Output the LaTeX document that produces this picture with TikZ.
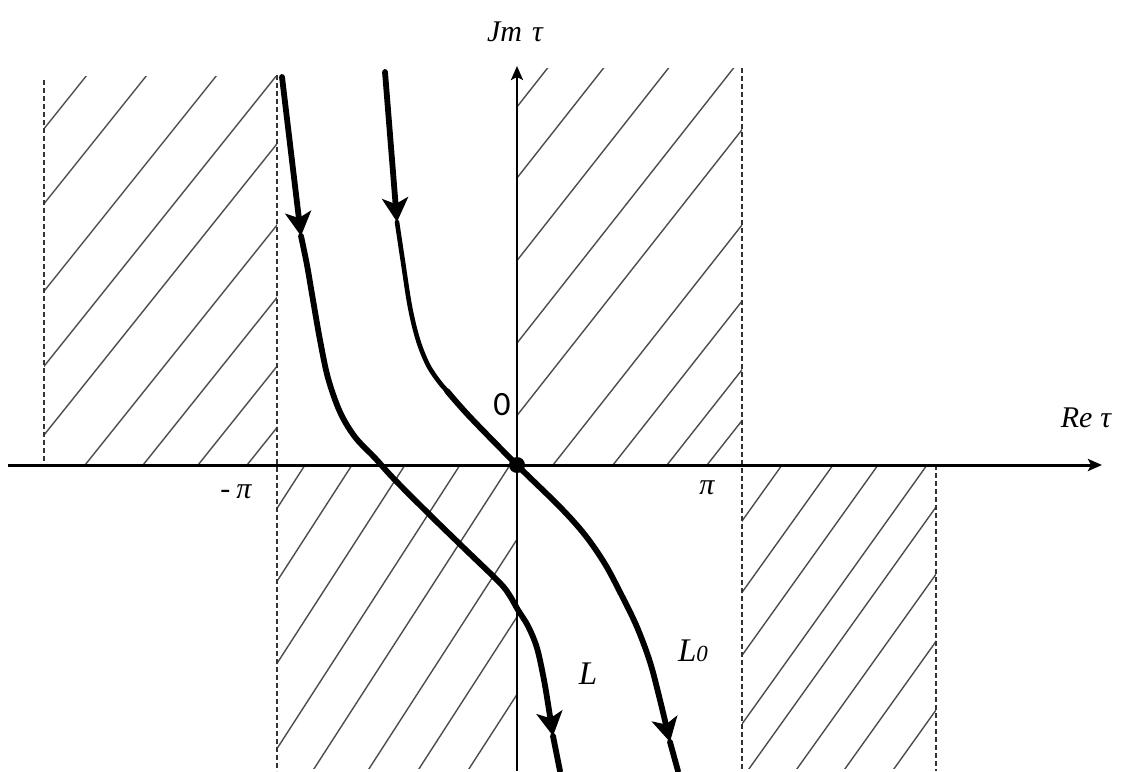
\documentclass[tikz,border=0pt]{standalone}
\usepackage{fontspec}
\setmainfont{Liberation Serif}
\newfontfamily\zerofont{Carlito}
\usetikzlibrary{arrows.meta}
\tikzset{
  hatch/.style={draw=black!70, line width=1.4pt},
  dashv/.style={draw=black!80, line width=1.4pt, dash pattern=on 5pt off 3pt},
  axis/.style={draw=black, line width=3pt, -{Stealth[length=14pt,width=12pt,inset=3pt]}},
  curve/.style={draw=black, line width=5.8pt, line cap=round, line join=round},
  thincurve/.style={curve, line width=4.6pt},
  bigtip/.style={-{Stealth[length=24pt,width=26pt,inset=6pt]}},
  lab/.style={font=\fontsize{30}{34}\selectfont\itshape, inner sep=0pt}
}
\begin{document}
\begin{tikzpicture}[x=1pt,y=-1pt]
\useasboundingbox (0,0) rectangle (1127,771);
% hatching
\begin{scope}
\clip (44,76) rectangle (277,465);
\foreach \c in {-225,-165,-95,-35,20,85,143,198,247}
  \draw[hatch] (\c,465) -- ({\c+400/1.25},65);
\end{scope}
\begin{scope}
\clip (517,68) rectangle (742,465);
\foreach \c in {235,291,356,421,478,553,613,667,707}
  \draw[hatch] (\c,465) -- ({\c+400/1.27},65);
\end{scope}
\begin{scope}
\clip (277,465) rectangle (517,768);
\foreach \c in {305,352,405,460,510,565,615,665,715}
  \draw[hatch] (\c,465) -- ({\c-310/1.55},775);
\end{scope}
\begin{scope}
\clip (742,465) rectangle (936,768);
\foreach \c in {782,833,878,927,966,1014,1062,1111}
  \draw[hatch] (\c,465) -- ({\c-310/1.4},775);
\end{scope}
% dashed boundaries
\coordinate (d1a) at (44,80);  \coordinate (d1b) at (44,465);
\coordinate (d2a) at (277,75); \coordinate (d2b) at (277,771);
\coordinate (d3a) at (742,68); \coordinate (d3b) at (742,771);
\coordinate (d4a) at (936,465); \coordinate (d4b) at (936,771);
\draw[dashv] (d1a) -- (d1b);
\draw[dashv] (d2a) -- (d2b);
\draw[dashv] (d3a) -- (d3b);
\draw[dashv] (d4a) -- (d4b);
% axes
\coordinate (xs) at (8,465); \coordinate (xe) at (1102,465);
\coordinate (ys) at (517,771); \coordinate (ye) at (517,66);
\draw[axis] (xs) -- (xe);
\draw[axis, line width=2.5pt] (ys) -- (ye);
% curve L
\coordinate (La) at (282,77); \coordinate (Lb) at (301,236);
\coordinate (Lc) at (553,736); \coordinate (Ld) at (560,771);
\draw[curve, bigtip] (La) -- (Lb);
\draw[curve, bigtip] plot[smooth, tension=0.55] coordinates {(301,236) (307,265) (313,300) (320,340) (328,378) (340,412) (355,437) (375,458) (395,480) (433,518) (467,551) (500,583) (510,596) (518,610) (528,626) (537,648) (544,680) (549,710) (553,736)};
\draw[curve] (Lc) -- (Ld);
% curve L0
\coordinate (Ma) at (385,72); \coordinate (Mb) at (397,222);
\coordinate (Mc) at (670,742); \coordinate (Md) at (678,771);
\draw[curve, bigtip] (Ma) -- (Mb);
\draw[thincurve] plot[smooth, tension=0.55] coordinates {(397,222) (403,262) (410,307) (418,340) (428,365) (440,383) (450,394)};
\draw[curve, bigtip] plot[smooth, tension=0.55] coordinates {(447,391) (470,417) (517,465) (560,507) (585,535) (605,564) (622,596) (637,627) (650,662) (660,700) (670,742)};
\draw[curve] (Mc) -- (Md);
% origin dot
\fill (517,465) circle (8pt);
% labels
\node[lab] (jm) at (515,32) {Jm\hspace{10pt}τ};
\node[lab] (re) at (1086,418) {Re\hspace{8pt}τ};
\node[inner sep=0pt, font=\zerofont\fontsize{34}{38}\selectfont] (zero) at (502,405) {0};
\node[lab] (mpi) at (236,492) {-\hspace{6pt}π};
\node[lab] (ppi) at (707,488) {π};
\node[lab, font=\fontsize{33}{36}\selectfont\itshape] (lL) at (588,674) {L};
\node[lab, font=\fontsize{33}{36}\selectfont\itshape] (lL0) at (693,651) {L\fontsize{23}{26}\selectfont 0};
\end{tikzpicture}
\end{document}
